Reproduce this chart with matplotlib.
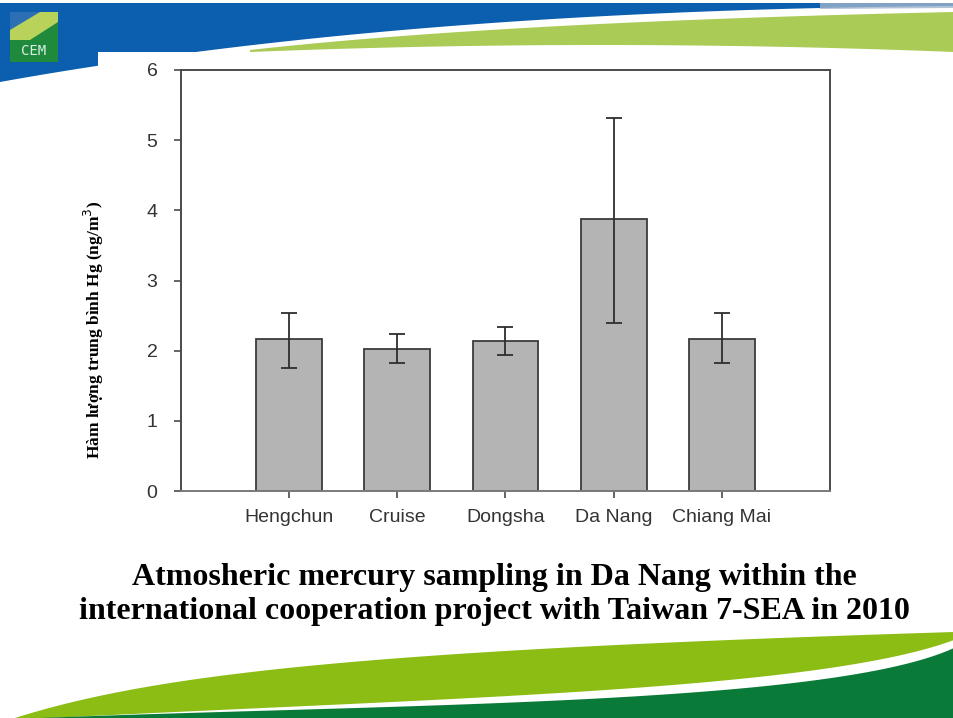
import matplotlib
matplotlib.use("Agg")
import matplotlib.pyplot as plt
import numpy as np
from matplotlib.patches import Polygon, Rectangle

# ---- data ----
sites = ["Hengchun", "Cruise", "Dongsha", "Da Nang", "Chiang Mai"]
mean_hg = [2.16, 2.03, 2.14, 3.87, 2.17]
err_low = [1.76, 1.82, 1.94, 2.40, 1.83]
err_high = [2.53, 2.24, 2.34, 5.32, 2.53]
y_ticks = [0, 1, 2, 3, 4, 5, 6]

W, H = 954, 718
fig = plt.figure(figsize=(W / 100, H / 100), dpi=100)
fig.patch.set_facecolor("white")


def bez(*pts, n=60):
    t = np.linspace(0, 1, n)[:, None]
    P = [np.array(p, dtype=float) for p in pts]
    if len(P) == 3:
        out = (1 - t) ** 2 * P[0] + 2 * (1 - t) * t * P[1] + t ** 2 * P[2]
    else:
        out = ((1 - t) ** 3 * P[0] + 3 * (1 - t) ** 2 * t * P[1]
               + 3 * (1 - t) * t ** 2 * P[2] + t ** 3 * P[3])
    return list(map(tuple, out))


def px(points):
    return [(x / W, 1 - y / H) for x, y in points]


def poly(points, color, z=0, alpha=1.0):
    fig.add_artist(Polygon(px(points), closed=True, facecolor=color, alpha=alpha,
                           edgecolor="none", transform=fig.transFigure, zorder=z))


# ---- slide decoration ----
blue_edge = bez((954, 6), (400, 10), (0, 82))
poly([(0, 3), (954, 3)] + blue_edge, "#0b5fae")
poly([(820, 3), (954, 3), (954, 8), (820, 9)], "#9fb4cc", 1, 0.8)
g_top = bez((250, 50), (500, 22), (954, 12))
g_bot = bez((954, 52), (600, 38), (250, 52))
poly(g_top + g_bot, "#aacb55")
fig.add_artist(Rectangle((98 / W, 0), 1 - 98 / W, 1 - 52 / H, facecolor="white",
                         edgecolor="none", transform=fig.transFigure, zorder=0))
# logo
fig.add_artist(Rectangle((10 / W, 1 - 62 / H), 48 / W, 50 / H, facecolor="#1f8a3c",
                         edgecolor="none", transform=fig.transFigure, zorder=1))
poly([(10, 12), (58, 12), (58, 22), (30, 40), (10, 40)], "#b8d25a", 2)
poly([(10, 12), (40, 12), (10, 30)], "#2c6fb5", 2)
fig.text(34 / W, 1 - 51 / H, "CEM", color="#d8f0e8", fontsize=10,
         ha="center", va="center", family="DejaVu Sans Mono", zorder=3)
# bottom swoosh
lg_top = bez((15, 718), (160, 672), (380, 650), (954, 632))
lg_bot = bez((954, 640), (820, 690), (450, 698), (50, 718))
poly(lg_top + lg_bot, "#8bbd14")
dg_top = bez((40, 718), (400, 704), (830, 705), (954, 648))
poly(dg_top + [(954, 718)], "#0a7a38")

# ---- chart ----
ax = fig.add_axes([181 / W, 1 - 491 / H, (830 - 181) / W, (491 - 70) / H])
ax.set_zorder(5)
xs = list(range(len(sites)))
yerr = [[m - lo for m, lo in zip(mean_hg, err_low)],
        [hi - m for m, hi in zip(mean_hg, err_high)]]
ax.bar(xs, mean_hg, width=0.61, color="#b4b4b4", edgecolor="#3c3c3c",
       linewidth=1.3, zorder=2)
ax.errorbar(xs, mean_hg, yerr=yerr, fmt="none", ecolor="#2e2e2e",
            elinewidth=1.3, capsize=5.5, capthick=1.3, zorder=3)

ax.set_xlim(-1, 5)
ax.set_ylim(0, 6)
ax.set_yticks(y_ticks)
ax.set_yticklabels([str(t) for t in y_ticks])
ax.set_xticks(xs)
ax.set_xticklabels(sites)
for s in ax.spines.values():
    s.set_color("#4a4a4a")
    s.set_linewidth(1.4)
ax.spines["bottom"].set_color("#7a7a7a")
ax.tick_params(direction="out", length=5, width=1.2, color="#4a4a4a",
               labelsize=14, labelcolor="#333333")
ax.tick_params(axis="y", pad=12)
ax.tick_params(axis="x", pad=8)
for lab in ax.get_xticklabels() + ax.get_yticklabels():
    lab.set_family("Liberation Sans")

ax.set_ylabel("Hàm lượng trung bình Hg (ng/m$^3$)", family="Liberation Serif",
              fontweight="bold", fontsize=12.5)
ax.yaxis.set_label_coords((106 - 181) / (830 - 181), (491 - 330) / (491 - 70))

cx = 494 / W
fig.text(cx, 1 - 578 / H, "Atmosheric mercury sampling in Da Nang within the",
         ha="center", va="center", family="Liberation Serif", fontweight="bold",
         fontsize=23, color="black")
fig.text(cx, 1 - 611 / H, "international cooperation project with Taiwan 7-SEA in 2010",
         ha="center", va="center", family="Liberation Serif", fontweight="bold",
         fontsize=23, color="black")

fig.savefig("out.png", dpi=100)
